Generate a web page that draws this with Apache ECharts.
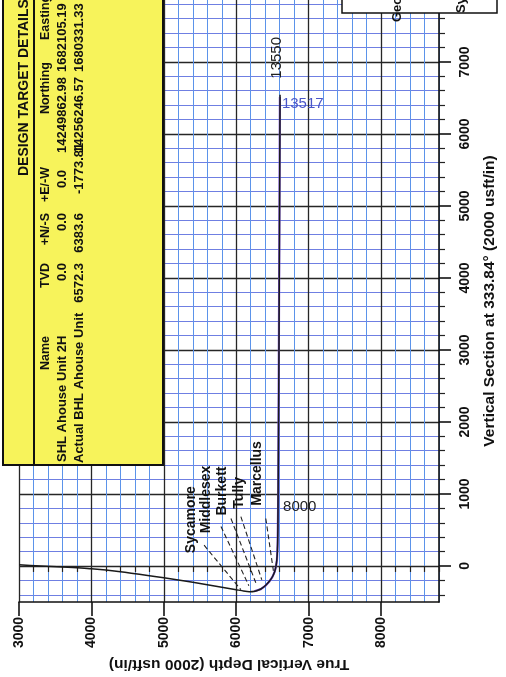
<!DOCTYPE html>
<html><head><meta charset="utf-8">
<script src="https://cdn.jsdelivr.net/npm/echarts@6/dist/echarts.min.js"></script>
<style>html,body{margin:0;padding:0;background:#fff}#c{width:506px;height:677px}</style>
</head><body><div id="c"></div>
<script>
// ---- data ----
const tvdTicks = [3000, 4000, 5000, 6000, 7000, 8000];
const tvdMinorTicks = [3200,3400,3600,3800,4200,4400,4600,4800,5200,5400,5600,5800,6200,6400,6600,6800,7200,7400,7600,7800,8200,8400,8600,8800];
const vsTicks = [0, 1000, 2000, 3000, 4000, 5000, 6000, 7000];
const vsMinorTicks = [-400,-200,200,400,600,800,1200,1400,1600,1800,2200,2400,2600,2800,3200,3400,3600,3800,4200,4400,4600,4800,5200,5400,5600,5800,6200,6400,6600,6800,7200,7400,7600,7800];

// plan wellbore (TVD, vertical section)
const planTVD = [3000,3300,3600,4000,4400,4800,5200,5600,6000,6100,6180,6260,6340,6400,6460,6500,6530,6548,6560,6568,6575,6590,6605];
const planVS  = [15,0,-15,-40,-80,-135,-195,-260,-330,-348,-357,-350,-320,-275,-210,-150,-80,-10,80,200,500,3000,6545];
// actual survey
const actTVD = [6250,6340,6400,6460,6500,6530,6548,6562,6572,6580,6603];
const actVS  = [-352,-322,-278,-212,-152,-82,-12,80,300,1000,6513];

// formation tops
const formationNames = ['Sycamore','Middlesex','Burkett','Tully','Marcellus'];
const formTopTVD  = [5556, 5789, 5927, 6064, 6408];
const formTopVS   = [288, 549, 659, 686, 659];
const formBaseTVD = [6064, 6174, 6270, 6353, 6517];
const formBaseVS  = [-329, -274, -233, -192, -96];
const formLabelTVD = [5377, 5583, 5803, 6037, 6284];
const formLabelVS  = [178, 453, 700, 796, 837];

// measured depth labels
const mdLabels = ['8000', '13517', '13550'];
const mdTVD = [6578, 6603, 6605];
const mdVS  = [823, 6513, 6545];

// design target table
const tgtHeader = ['Name','TVD','+N/-S','+E/-W','Northing','Easting'];
const tgtRow1 = ['SHL Ahouse Unit 2H','0.0','0.0','0.0','14249862.98','1682105.19'];
const tgtRow2 = ['Actual BHL Ahouse Unit','6572.3','6383.6','-1773.81','14256246.57','1680331.33'];

// ---- chart ----
const FONT = "'Liberation Sans', Arial, Helvetica, sans-serif";
const zip = (a, b) => a.map((v, i) => [v, b[i]]);
const chart = echarts.init(document.getElementById('c'), null, {renderer: 'canvas'});

const minorX = '#5b93ea', minorY = '#6f7fe2', major = '#262626';
const plain = v => String(v);

const series = [
  { type:'line', xAxisIndex:1, yAxisIndex:1, data: zip(actTVD, actVS), showSymbol:false, silent:true,
    lineStyle:{color:'#7a52d6', width:2.2}, z:3 },
  { type:'line', xAxisIndex:1, yAxisIndex:1, data: zip(planTVD, planVS), showSymbol:false, silent:true,
    smooth:0.2, lineStyle:{color:'#1a1a1a', width:1.5}, z:4 }
];
formationNames.forEach((n, i) => {
  series.push({ type:'line', xAxisIndex:1, yAxisIndex:1, name:n, silent:true, showSymbol:false,
    data: [[formTopTVD[i], formTopVS[i]], [formBaseTVD[i], formBaseVS[i]]],
    lineStyle:{color:'#222', width:1.1, type:[5,3]}, z:2 });
});

const option = {
  animation:false,
  backgroundColor:'#fff',
  grid:{left:19, right:64, top:0, bottom:68},
  xAxis:[
    { type:'value', min:3000, max:8800, position:'bottom',
      axisLine:{show:false}, axisLabel:{show:false},
      axisTick:{show:true, customValues:tvdMinorTicks, length:6, lineStyle:{color:'#222', width:1.2}},
      splitLine:{show:true, lineStyle:{color:minorX, width:1}} },
    { type:'value', min:3000, max:8800, position:'bottom',
      axisLine:{show:true, onZero:false, lineStyle:{color:'#111', width:1.6}},
      axisTick:{show:true, customValues:tvdTicks, length:14, lineStyle:{color:'#111', width:1.6}},
      axisLabel:{customValues:tvdTicks, formatter:plain, rotate:90, margin:15, fontFamily:FONT, fontWeight:'bold', fontSize:14, color:'#111'},
      splitLine:{show:true, lineStyle:{color:major, width:1.3}},
      name:'True Vertical Depth (2000 usft/in)', nameLocation:'middle', nameRotate:180, nameGap:44,
      nameTextStyle:{fontFamily:FONT, fontWeight:'bold', fontSize:15.5, color:'#111'} }
  ],
  yAxis:[
    { type:'value', min:-500, max:7860, position:'right',
      axisLine:{show:false}, axisLabel:{show:false},
      axisTick:{show:true, customValues:vsMinorTicks, length:6, lineStyle:{color:'#222', width:1.2}},
      splitLine:{show:true, lineStyle:{color:minorY, width:1}} },
    { type:'value', min:-500, max:7860, position:'right',
      axisLine:{show:true, onZero:false, lineStyle:{color:'#111', width:1.6}},
      axisTick:{show:true, customValues:vsTicks, length:12, lineStyle:{color:'#111', width:1.6}},
      axisLabel:{customValues:vsTicks, formatter:plain, rotate:90, margin:19, fontFamily:FONT, fontWeight:'bold', fontSize:14, color:'#111'},
      splitLine:{show:true, lineStyle:{color:major, width:1.3}},
      name:'Vertical Section at 333.84° (2000 usft/in)', nameLocation:'middle', nameRotate:90, nameGap:43,
      nameTextStyle:{fontFamily:FONT, fontWeight:'bold', fontSize:15.5, color:'#111'} }
  ],
  series: series
};
chart.setOption(option);

const P = (tvd, vs) => chart.convertToPixel({xAxisIndex:1, yAxisIndex:1}, [tvd, vs]);
const R = Math.PI / 2;
const baseStyle = {fontFamily:FONT, fontWeight:'bold', fontSize:13, fill:'#111', align:'left', verticalAlign:'middle'};
const txt = (x, y, text, opts) => ({
  type:'text', x:x, y:y, rotation:R, z:100, silent:true,
  style: Object.assign({text:text}, baseStyle, opts || {})
});

const g = [];
// formation labels
formationNames.forEach((n, i) => {
  const p = P(formLabelTVD[i], formLabelVS[i]);
  g.push(txt(p[0], p[1], n, {fontSize:14}));
});
// MD labels
{
  const p0 = P(mdTVD[0], mdVS[0]);
  g.push({type:'text', x:p0[0] + 5, y:p0[1], z:100, silent:true,
    style:{text:mdLabels[0], fontFamily:FONT, fontSize:15, fill:'#222', align:'left', verticalAlign:'middle'}});
  const p1 = P(mdTVD[1], mdVS[1]);
  g.push({type:'text', x:p1[0] + 2, y:p1[1] + 7, z:100, silent:true,
    style:{text:mdLabels[1], fontFamily:FONT, fontSize:15, fill:'#4a56c8', align:'left', verticalAlign:'middle'}});
  const p2 = P(mdTVD[2], mdVS[2]);
  g.push({type:'text', x:p2[0] - 3, y:p2[1] - 16, rotation:R, z:100, silent:true,
    style:{text:mdLabels[2], fontFamily:FONT, fontSize:15, fill:'#222', align:'left', verticalAlign:'middle'}});
}

// design target box
g.push({type:'rect', z:90, silent:true, shape:{x:3, y:-4, width:160, height:469},
  style:{fill:'#f7f35b', stroke:'#111', lineWidth:2}});
g.push({type:'line', z:91, silent:true, shape:{x1:34, y1:-4, x2:34, y2:465}, style:{stroke:'#111', lineWidth:2}});
g.push(txt(24, 176, 'DESIGN TARGET DETAILS', {fontSize:14}));
const colEnd = [null, 263, 213, 167, 62, null];
const hx = 46, r1x = 62, r2x = 79;
g.push(txt(hx, 353, tgtHeader[0], {align:'center', fontSize:12.5}));
for (let c = 1; c <= 4; c++) g.push(txt(hx, colEnd[c], tgtHeader[c], {align:'right', fontSize:12.5}));
g.push(txt(hx, 40, tgtHeader[5], {fontSize:12.5}));
g.push(txt(r1x, 462, tgtRow1[0], {fontSize:13}));
g.push(txt(r2x, 463, tgtRow2[0], {fontSize:13}));
for (let c = 1; c <= 2; c++) {
  g.push(txt(r1x, colEnd[c], tgtRow1[c], {align:'right', fontSize:13}));
  g.push(txt(r2x, colEnd[c], tgtRow2[c], {align:'right', fontSize:13}));
}
g.push(txt(r1x, 188, tgtRow1[3], {fontSize:13}));
g.push(txt(r2x, 194, tgtRow2[3], {fontSize:13}));
g.push(txt(r1x, 77, tgtRow1[4], {align:'right', fontSize:13}));
g.push(txt(r2x, 77, tgtRow2[4], {align:'right', fontSize:13}));
g.push(txt(r1x, 72, tgtRow1[5], {fontSize:13}));
g.push(txt(r2x, 72, tgtRow2[5], {fontSize:13}));

// partial legend box at top right
g.push({type:'rect', z:90, silent:true, shape:{x:342, y:-4, width:155, height:17},
  style:{fill:'#fff', stroke:'#111', lineWidth:1.5}});
g.push(txt(397, 22, 'Geodetic System', {fontSize:13}));
g.push(txt(461, 13, 'System Datum', {fontSize:13}));

chart.setOption({graphic:{elements:g}});
</script></body></html>
